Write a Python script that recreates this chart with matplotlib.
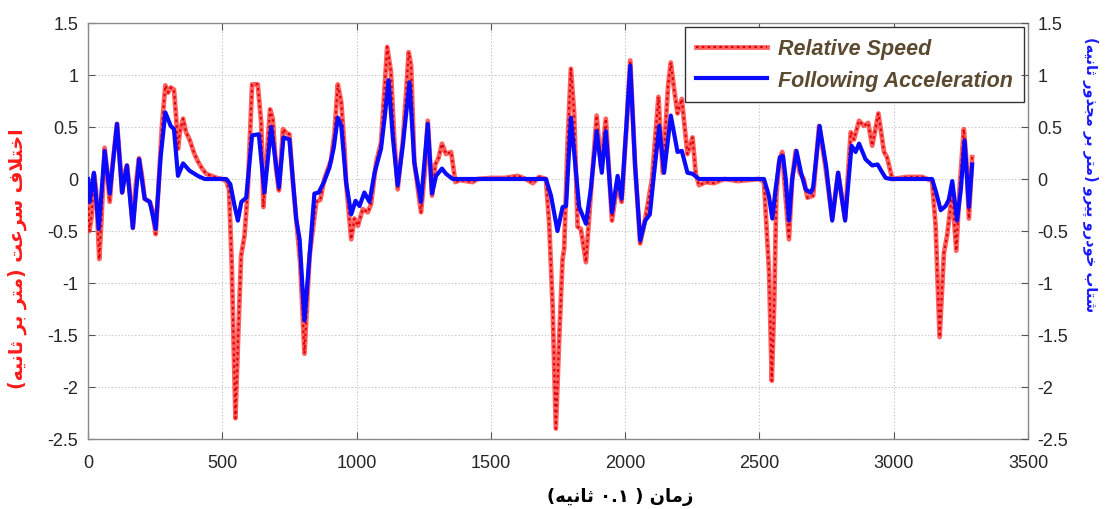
import re
import matplotlib
matplotlib.use("Agg")
import matplotlib.pyplot as plt
from matplotlib.legend_handler import HandlerTuple

# ---- data -------------------------------------------------------------
speed_t = [0, 5, 14, 22, 30, 42, 50, 62, 70, 81, 90, 108, 118, 127, 135, 145, 155, 167,
           178, 190, 200, 211, 230, 240, 252, 262, 275, 288, 298, 308, 320, 328, 335, 342,
           354, 365, 378, 395, 409, 425, 440, 460, 480, 500, 515, 525, 535, 549, 558, 570,
           583, 595, 611, 632, 645, 653, 665, 678, 688, 700, 711, 726, 740, 750, 762, 775,
           790, 806, 825, 850, 865, 880, 905, 918, 930, 943, 955, 961, 980, 992, 1005, 1023,
           1042, 1054, 1073, 1091, 1105, 1114, 1128, 1140, 1153, 1165, 1172, 1185, 1194,
           1203, 1215, 1240, 1255, 1265, 1281, 1293, 1305, 1318, 1333, 1352, 1368, 1385,
           1432, 1450, 1500, 1550, 1600, 1630, 1656, 1680, 1705, 1717, 1730, 1742, 1755,
           1767, 1773, 1785, 1798, 1810, 1823, 1835, 1854, 1872, 1894, 1910, 1928, 1951,
           1970, 1987, 2005, 2019, 2037, 2056, 2075, 2100, 2124, 2140, 2160, 2170, 2182,
           2195, 2211, 2232, 2251, 2263, 2275, 2300, 2330, 2370, 2420, 2499, 2517, 2536,
           2546, 2555, 2563, 2573, 2585, 2597, 2610, 2622, 2635, 2650, 2665, 2679, 2700,
           2722, 2745, 2771, 2793, 2819, 2840, 2852, 2871, 2889, 2905, 2920, 2943, 2964,
           2975, 2995, 3050, 3106, 3143, 3156, 3171, 3187, 3199, 3218, 3233, 3245, 3261,
           3270, 3280, 3292]
speed_v = [-0.05, -0.5, -0.35, 0.05, -0.1, -0.77, -0.4, 0.30, 0.1, -0.22, 0.1, 0.53, 0.2,
           -0.13, 0.05, 0.13, -0.1, -0.47, -0.05, 0.2, 0.05, -0.19, -0.22, -0.3, -0.53, -0.1,
           0.5, 0.9, 0.83, 0.88, 0.86, 0.6, 0.29, 0.45, 0.58, 0.45, 0.38, 0.25, 0.17, 0.10,
           0.05, 0.03, 0.01, 0.0, -0.02, -0.1, -0.8, -2.3, -1.6, -0.74, -0.54, -0.1, 0.91,
           0.91, 0.54, -0.27, 0.2, 0.67, 0.58, 0.1, -0.11, 0.48, 0.44, 0.43, 0.0, -0.38,
           -0.8, -1.68, -0.74, -0.22, -0.20, 0.0, 0.18, 0.45, 0.91, 0.74, 0.3, -0.03, -0.58,
           -0.38, -0.45, -0.29, -0.32, -0.24, 0.16, 0.35, 0.9, 1.27, 1.03, 0.4, -0.10, 0.2,
           0.35, 0.85, 1.22, 1.09, 0.16, -0.32, 0.1, 0.56, -0.16, 0.14, 0.2, 0.34, 0.24,
           0.26, -0.03, -0.01, -0.03, 0.0, 0.01, 0.01, 0.03, 0.0, -0.04, 0.02, 0.0, -0.42,
           -1.22, -2.4, -1.5, -0.77, -0.67, 0.3, 1.06, 0.64, -0.46, -0.48, -0.80, -0.15,
           0.61, 0.12, 0.58, -0.40, -0.06, -0.22, 0.5, 1.14, 0.13, -0.62, -0.38, 0.0, 0.79,
           0.06, 0.9, 1.12, 0.87, 0.63, 0.77, 0.24, 0.40, 0.05, -0.06, -0.03, -0.04, 0.0,
           -0.02, 0.0, -0.03, -0.9, -1.94, -1.2, -0.16, 0.16, 0.26, -0.16, -0.58, 0.0, 0.27,
           0.06, 0.0, -0.18, -0.16, 0.51, 0.13, -0.38, 0.06, -0.38, 0.45, 0.38, 0.56, 0.51,
           0.54, 0.32, 0.63, 0.26, 0.21, 0.0, 0.02, 0.02, -0.02, -0.45, -1.52, -0.71, -0.54,
           -0.13, -0.69, -0.1, 0.48, 0.2, -0.38, 0.21]

accel_t = [0, 6, 22, 40, 62, 81, 108, 127, 145, 167, 190, 211, 230, 252, 270, 288, 308,
           320, 335, 354, 378, 409, 434, 515, 530, 545, 558, 571, 589, 611, 636, 657, 682,
           711, 728, 750, 775, 788, 806, 825, 843, 859, 880, 899, 915, 930, 943, 961, 980,
           996, 1011, 1029, 1048, 1067, 1091, 1105, 1119, 1135, 1153, 1172, 1197, 1215,
           1240, 1265, 1281, 1296, 1318, 1333, 1358, 1705, 1724, 1748, 1767, 1780, 1798,
           1817, 1829, 1854, 1872, 1894, 1913, 1928, 1951, 1972, 1987, 2019, 2037, 2056,
           2075, 2092, 2108, 2127, 2145, 2170, 2195, 2211, 2232, 2251, 2275, 2517, 2535,
           2548, 2560, 2576, 2588, 2598, 2610, 2622, 2638, 2655, 2672, 2691, 2700, 2724,
           2748, 2771, 2793, 2819, 2843, 2858, 2871, 2895, 2920, 2940, 2958, 2970, 2990,
           3143, 3158, 3175, 3193, 3205, 3218, 3236, 3250, 3264, 3280, 3292]
accel_v = [0.0, -0.22, 0.06, -0.48, 0.27, -0.14, 0.53, -0.13, 0.13, -0.47, 0.19, -0.19,
           -0.22, -0.48, 0.2, 0.64, 0.51, 0.48, 0.03, 0.15, 0.08, 0.03, 0.0, 0.0, -0.05,
           -0.25, -0.40, -0.22, -0.18, 0.42, 0.43, -0.13, 0.50, -0.08, 0.40, 0.38, -0.38,
           -0.58, -1.36, -0.74, -0.14, -0.13, -0.02, 0.11, 0.3, 0.59, 0.51, -0.03, -0.34,
           -0.21, -0.26, -0.13, -0.22, 0.06, 0.29, 0.6, 0.95, 0.4, -0.06, 0.32, 0.93, 0.16,
           -0.22, 0.53, -0.14, 0.03, 0.10, 0.05, 0.0, 0.0, -0.16, -0.50, -0.27, -0.26, 0.59,
           0.06, -0.27, -0.43, -0.10, 0.46, 0.06, 0.46, -0.32, 0.03, -0.19, 1.09, 0.13,
           -0.59, -0.40, -0.34, 0.06, 0.51, 0.06, 0.61, 0.26, 0.27, 0.06, 0.05, 0.0, 0.0,
           -0.16, -0.38, -0.1, 0.21, 0.22, 0.0, -0.40, 0.0, 0.27, 0.06, -0.10, -0.13, -0.08,
           0.51, 0.13, -0.40, 0.06, -0.40, 0.32, 0.26, 0.34, 0.19, 0.13, 0.14, 0.06, 0.01,
           0.0, 0.0, -0.13, -0.30, -0.26, -0.2, -0.02, -0.40, -0.1, 0.37, -0.27, 0.14]

x_ticks = [0, 500, 1000, 1500, 2000, 2500, 3000, 3500]
y_ticks = [-2.5, -2, -1.5, -1, -0.5, 0, 0.5, 1, 1.5]
y_tick_labels = ["-2.5", "-2", "-1.5", "-1", "-0.5", "0", "0.5", "1", "1.5"]

series_names = ["Relative Speed", "Following Acceleration"]
xlabel_text = "زمان ( ۰.۱ ثانیه)"
ylabel_left = "اختلاف سرعت (متر بر ثانیه)"
ylabel_right = "شتاب خودرو پیرو (متر بر مجذور ثانیه)"

# ---- Persian shaping (contextual forms + visual order) -----------------
FORMS = {
    "ا": ("\uFE8D", "\uFE8E"), "ب": ("\uFE8F", "\uFE90", "\uFE91", "\uFE92"),
    "ت": ("\uFE95", "\uFE96", "\uFE97", "\uFE98"), "ث": ("\uFE99", "\uFE9A", "\uFE9B", "\uFE9C"),
    "ج": ("\uFE9D", "\uFE9E", "\uFE9F", "\uFEA0"), "خ": ("\uFEA5", "\uFEA6", "\uFEA7", "\uFEA8"),
    "د": ("\uFEA9", "\uFEAA"), "ذ": ("\uFEAB", "\uFEAC"), "ر": ("\uFEAD", "\uFEAE"),
    "ز": ("\uFEAF", "\uFEB0"), "س": ("\uFEB1", "\uFEB2", "\uFEB3", "\uFEB4"),
    "ش": ("\uFEB5", "\uFEB6", "\uFEB7", "\uFEB8"), "ع": ("\uFEC9", "\uFECA", "\uFECB", "\uFECC"),
    "ف": ("\uFED1", "\uFED2", "\uFED3", "\uFED4"), "ل": ("\uFEDD", "\uFEDE", "\uFEDF", "\uFEE0"),
    "م": ("\uFEE1", "\uFEE2", "\uFEE3", "\uFEE4"), "ن": ("\uFEE5", "\uFEE6", "\uFEE7", "\uFEE8"),
    "ه": ("\uFEE9", "\uFEEA", "\uFEEB", "\uFEEC"), "و": ("\uFEED", "\uFEEE"),
    "ی": ("\uFBFC", "\uFBFD", "\uFBFE", "\uFBFF"), "پ": ("\uFB56", "\uFB57", "\uFB58", "\uFB59"),
}


def _joins_forward(ch):
    return ch in FORMS and len(FORMS[ch]) == 4


def persian(text):
    out, i, n = [], 0, len(text)
    while i < n:
        c = text[i]
        prev = text[i - 1] if i > 0 else ""
        nxt = text[i + 1] if i + 1 < n else ""
        if c not in FORMS:
            out.append(c)
            i += 1
            continue
        link_prev = _joins_forward(prev)
        if c == "ل" and nxt == "ا":
            out.append("\uFEFC" if link_prev else "\uFEFB")
            i += 2
            continue
        link_next = _joins_forward(c) and nxt in FORMS
        f = FORMS[c]
        if link_prev and link_next:
            g = f[3]
        elif link_prev:
            g = f[1]
        elif link_next:
            g = f[2]
        else:
            g = f[0]
        out.append(g)
        i += 1
    vis = "".join(out)[::-1].translate(str.maketrans("()", ")("))
    return re.sub(r"[0-9\u06F0-\u06F9.]+", lambda m: m.group(0)[::-1], vis)


# ---- figure -----------------------------------------------------------
plt.rcParams["font.family"] = ["Liberation Sans", "DejaVu Sans"]
fig = plt.figure(figsize=(11.12, 5.10), dpi=100)
ax = fig.add_axes([88 / 1112, 1 - 440 / 510, 940 / 1112, 416 / 510])

r_base, = ax.plot(speed_t, speed_v, color="#ff4545", lw=3.4, alpha=0.85,
                  solid_joinstyle="round", zorder=3)
r_dots, = ax.plot(speed_t, speed_v, color="#e00000", lw=1.5,
                  linestyle=(0, (1.2, 1.6)), zorder=3)
b_line, = ax.plot(accel_t, accel_v, color="#0a0aff", lw=3.0,
                  solid_joinstyle="round", zorder=4)

ax.set_xlim(0, 3500)
ax.set_ylim(-2.5, 1.5)
ax.set_xticks(x_ticks)
ax.set_yticks(y_ticks)
ax.set_yticklabels(y_tick_labels)
ax.grid(True, linestyle=(0, (1, 2)), color="#bdbdbd", lw=0.8, zorder=0)
ax.tick_params(direction="in", length=5, width=0.8, colors="#555555",
               labelcolor="#262626", labelsize=13, top=True, pad=7)
ax.tick_params(axis="x", pad=11)
for s in ax.spines.values():
    s.set_color("#8a8a8a")
    s.set_linewidth(1.0)

ax2 = ax.twinx()
ax2.set_ylim(-2.5, 1.5)
ax2.set_yticks(y_ticks)
ax2.set_yticklabels(y_tick_labels)
ax2.tick_params(direction="in", length=5, width=0.8, colors="#555555",
                labelcolor="#262626", labelsize=13, pad=7)
for s in ax2.spines.values():
    s.set_visible(False)

fa = ["DejaVu Sans"]
ax.set_xlabel(persian(xlabel_text), fontsize=13, fontweight="bold", family=fa,
              color="black", va="center", ha="center")
ax.xaxis.set_label_coords(0.566, -0.137)
ax.set_ylabel(persian(ylabel_left), fontsize=13.5, fontweight="bold", family=fa,
              color="#ff1a1a", rotation=90, va="center", ha="center")
ax.yaxis.set_label_coords(-0.0755, 0.435)
ax2.set_ylabel(persian(ylabel_right), fontsize=10.5, fontweight="bold", family=fa,
               color="#1a1aff", rotation=270, va="center", ha="center")
ax2.yaxis.set_label_coords(1.066, 0.639)

leg = ax.legend([(r_base, r_dots), b_line], series_names,
                handler_map={tuple: HandlerTuple(ndivide=1, pad=0)},
                loc="upper right", borderaxespad=0.2, fancybox=False,
                framealpha=1, edgecolor="#333333", handlelength=3.3,
                borderpad=0.5, labelspacing=0.5, handletextpad=0.5,
                prop={"family": "Liberation Sans", "weight": "bold",
                      "style": "italic", "size": 15.5})
leg.get_frame().set_linewidth(1.0)
for t in leg.get_texts():
    t.set_color("#5b4a30")

fig.savefig("out.png", dpi=100)
